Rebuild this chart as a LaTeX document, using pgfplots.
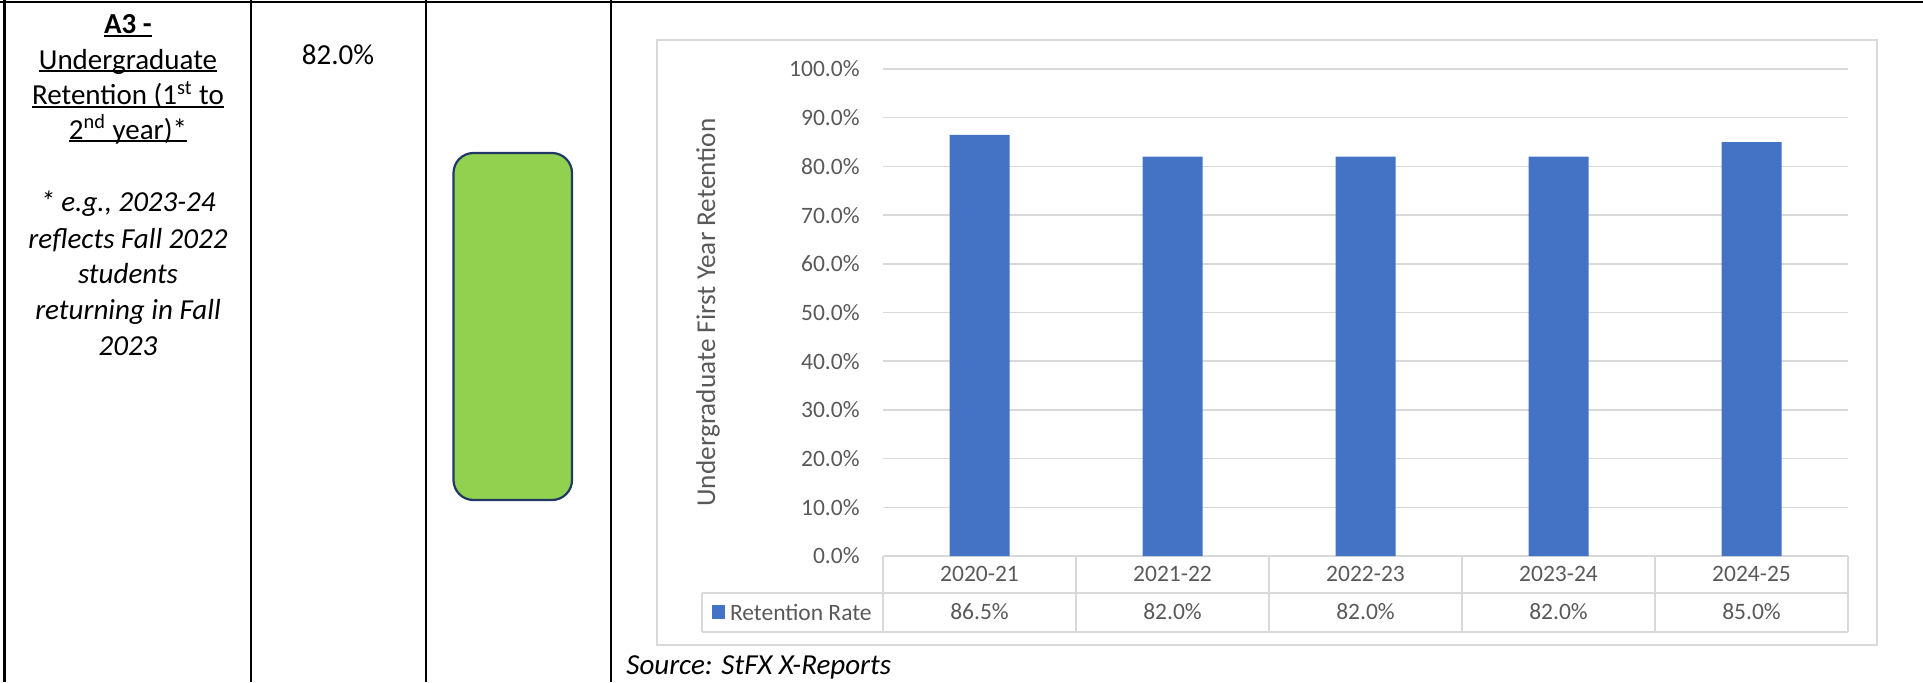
\documentclass[border=0pt]{standalone}
\usepackage{pgfplots}
\pgfplotsset{compat=1.18}
\usepackage{pgfplotstable}
\usepackage{fontspec}
\setmainfont{Carlito}
\definecolor{barblue}{HTML}{4472C4}
\definecolor{txtgray}{HTML}{595959}
\definecolor{gridgray}{HTML}{D9D9D9}
\definecolor{okgreen}{HTML}{92D050}
\definecolor{navy}{HTML}{1F3864}
\newcommand\bigfont{\fontsize{14.5pt}{17.75pt}\selectfont}
\newcommand\tickfont{\fontsize{11.75pt}{14pt}\selectfont}
\newcommand\labfont{\fontsize{13.6pt}{16pt}\selectfont}
\newcommand\ul[1]{\setbox0\hbox{#1}\rlap{\rule[-1.7pt]{\wd0}{1pt}}\box0}

\pgfplotstableread{
x cat val
0 2020-21 86.5
1 2021-22 82.0
2 2022-23 82.0
3 2023-24 82.0
4 2024-25 85.0
}\retention

\begin{document}
\begin{tikzpicture}
\begin{scope}[x=0.5pt,y=-0.5pt]
\useasboundingbox (0,0) rectangle (1923,682);
% outer table lines
\draw[black, line width=1.25pt] (0,2) -- (1923,2);
\foreach \xx in {4.5,251,426,611} \draw[black, line width=1.25pt] (\xx,0) -- (\xx,682);
% left column text
\node[anchor=base, font=\bigfont\bfseries] at (128,33.5) {\ul{A3 -}};
\node[anchor=base, font=\bigfont] at (128,69) {\ul{Undergraduate}};
\node[anchor=base, font=\bigfont] at (128,104.5) {\ul{Retention (1\textsuperscript{st} to}};
\node[anchor=base, font=\bigfont] at (128,139) {\ul{2\textsuperscript{nd} year)*}};
\node[anchor=base, font=\bigfont\itshape] at (128,211.5) {* e.g., 2023-24};
\node[anchor=base, font=\bigfont\itshape] at (128,248) {reflects Fall 2022};
\node[anchor=base, font=\bigfont\itshape] at (128,283.5) {students};
\node[anchor=base, font=\bigfont\itshape] at (128,319) {returning in Fall};
\node[anchor=base, font=\bigfont\itshape] at (128,355) {2023};
% target column
\node[anchor=base, font=\bigfont] at (338,64.5) {82.0\%};
% status box
\draw[fill=okgreen, draw=navy, line width=1.1pt, rounded corners=10pt] (453.5,153) rectangle (572,500);
% chart frame
\draw[gridgray, line width=0.75pt] (657,40) rectangle (1877,645);
% data table
\draw[gridgray, line width=0.8pt] (883,556) -- (1848,556);
\draw[gridgray, line width=0.8pt] (702,592.7) -- (1848,592.7);
\draw[gridgray, line width=0.8pt] (702,631.7) -- (1848,631.7);
\draw[gridgray, line width=0.8pt] (702,592.7) -- (702,631.7);
\foreach \k in {0,...,5} \draw[gridgray, line width=0.8pt] (883+193*\k,556) -- (883+193*\k,631.7);
\fill[barblue] (711.8,605) rectangle (725,619);
\node[anchor=west, font=\tickfont, text=txtgray, inner sep=0pt] at (729.6,612) {Retention Rate};
% source
\node[anchor=west, font=\bigfont\itshape, inner sep=0pt] at (626,667) {Source: StFX X-Reports};
\end{scope}
\begin{axis}[
  at={(441.5pt,-278pt)}, anchor=south west,
  scale only axis, width=482.5pt, height=243.5pt,
  xmin=-0.5, xmax=4.5, ymin=0, ymax=100,
  xtick={0,1,2,3,4}, xticklabels from table={\retention}{cat},
  ytick={0,10,...,100},
  /pgf/number format/assume math mode=true,
  yticklabel={\pgfmathprintnumber[fixed,fixed zerofill,precision=1]{\tick}\%},
  ymajorgrids, grid style={gridgray, line width=0.75pt},
  axis line style={draw=none}, tick style={draw=none},
  xticklabel style={font=\tickfont, text=txtgray, anchor=center, inner sep=0pt, yshift=-9pt},
  yticklabel style={font=\tickfont, text=txtgray, anchor=east, inner sep=0pt, xshift=-11.5pt},
  ylabel={Undergraduate First Year Retention},
  every axis y label/.style={at={(axis description cs:-0.1813,0.5)}, rotate=90, anchor=center, font=\labfont, text=txtgray},
  clip=false,
]
\addplot[ybar, bar width=30pt, bar shift=0pt, fill=barblue, draw=none] table[x=x,y=val]{\retention};
\addplot[draw=none, mark=none, nodes near coords={\pgfmathprintnumber[fixed,fixed zerofill,precision=1]{\pgfplotspointmeta}\%}, point meta=explicit,
  every node near coord/.style={anchor=center, font=\tickfont, text=txtgray, inner sep=0pt}] table[x=x, y expr=-11.5, meta=val]{\retention};
\end{axis}
\end{tikzpicture}
\end{document}
